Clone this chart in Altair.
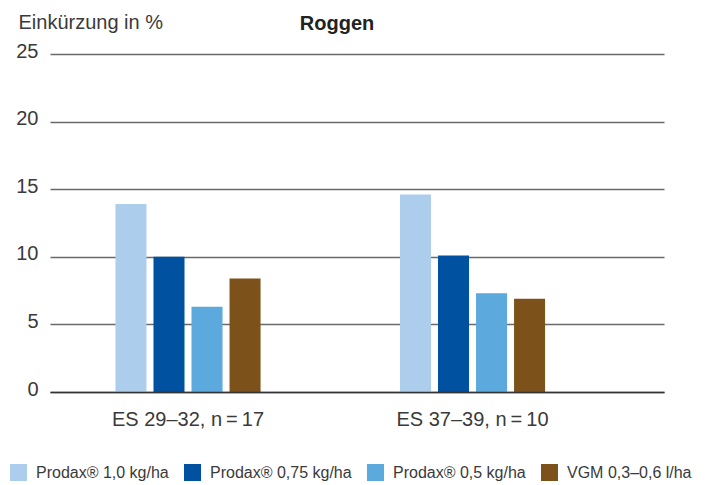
import altair as alt
import pandas as pd

# Growth stage groups shown on the x axis
stages = ["ES 29\u201332, n\u2009=\u200917", "ES 37\u201339, n\u2009=\u200910"]

# Treatments (legend entries) and their colours
treatments = [
    "Prodax® 1,0 kg/ha",
    "Prodax® 0,75 kg/ha",
    "Prodax® 0,5 kg/ha",
    "VGM 0,3\u20130,6 l/ha",
]
colors = ["#accdec", "#0052a0", "#5ca9dd", "#7c521a"]

# Shortening in % per treatment, one list per growth stage
es_29_32 = [13.9, 10.0, 6.3, 8.4]
es_37_39 = [14.6, 10.1, 7.3, 6.9]

rows = []
for stage, values in zip(stages, [es_29_32, es_37_39]):
    for t, v in zip(treatments, values):
        rows.append({"stage": stage, "treatment": t, "value": v})
df = pd.DataFrame(rows)

FONT = "Liberation Sans"
TEXT = "#3a3a3a"

bars = alt.Chart(df).mark_bar().encode(
    x=alt.X(
        "stage:N",
        sort=stages,
        scale=alt.Scale(paddingInner=0.49, paddingOuter=0.324, align=0.355),
        axis=alt.Axis(
            title=None,
            labelAngle=0,
            labelFontSize=20,
            labelFont=FONT,
            labelColor=TEXT,
            labelBaseline="alphabetic",
            labelPadding=33,
            ticks=False,
            tickSize=0,
            domain=True,
            domainColor="#333333",
            domainWidth=1.6,
            grid=False,
            zindex=1,
        ),
    ),
    xOffset=alt.XOffset(
        "treatment:N",
        sort=treatments,
        scale=alt.Scale(paddingInner=0.184, paddingOuter=0),
    ),
    y=alt.Y(
        "value:Q",
        scale=alt.Scale(domain=[0, 25], nice=False),
        axis=alt.Axis(
            values=[0, 5, 10, 15, 20, 25],
            title="Einkürzung in %",
            titleAngle=0,
            titleAlign="left",
            titleBaseline="alphabetic",
            titleX=-32,
            titleY=-26,
            titleFontSize=20,
            titleFontWeight="normal",
            titleFont=FONT,
            titleColor=TEXT,
            labelFontSize=20,
            labelFont=FONT,
            labelColor=TEXT,
            labelPadding=12,
            labelOffset=-3,
            ticks=False,
            tickSize=0,
            domain=False,
            grid=True,
            gridColor="#6a6a6a",
            gridWidth=1.4,
            zindex=0,
        ),
    ),
    color=alt.Color(
        "treatment:N",
        sort=treatments,
        scale=alt.Scale(domain=treatments, range=colors),
        legend=alt.Legend(
            title=None,
            orient="none",
            direction="horizontal",
            columns=4,
            legendX=-40,
            legendY=410,
            symbolType="square",
            symbolSize=289,
            symbolStrokeWidth=0,
            symbolOpacity=1,
            labelFontSize=16,
            labelFont=FONT,
            labelColor=TEXT,
            labelOffset=9,
            columnPadding=15,
            padding=0,
        ),
    ),
)

chart = bars.properties(
    width=614,
    height=338,
    autosize=alt.AutoSizeParams(type="none"),
    padding={"left": 50, "top": 54, "right": 49, "bottom": 93},
    title=alt.TitleParams(
        "Roggen",
        font=FONT,
        fontSize=20,
        fontWeight="bold",
        color="#222222",
        anchor="middle",
        dx=-20,
        dy=26,
    ),
).configure_view(stroke=None)

chart.save("out.html", embed_options={"renderer": "svg", "actions": False})
